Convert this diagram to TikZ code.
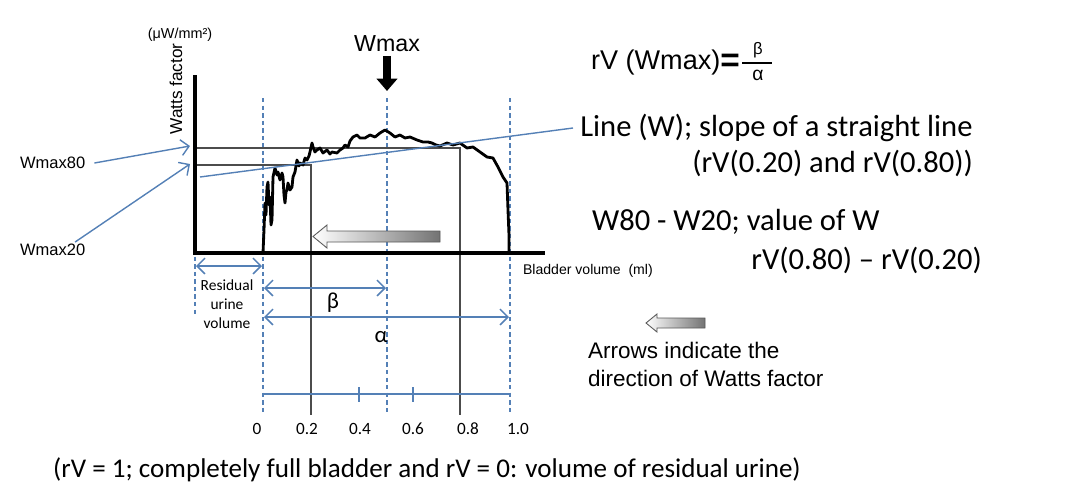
\documentclass[tikz,border=0pt]{standalone}
\usepackage{fontspec}
\setmainfont{Carlito}
\newfontfamily\arialf{Liberation Sans}
\usetikzlibrary{arrows.meta}
\definecolor{wblue}{RGB}{84,128,182}

\begin{document}
\begin{tikzpicture}[x=0.02cm, y=-0.02cm,
    axis/.style={line width=2pt},
    guide/.style={wblue, line width=0.7pt, dash pattern=on 2.5pt off 1.8pt},
    refline/.style={gray!60!black, line width=0.6pt},
    dimarrow/.style={wblue, line width=0.9pt, {Straight Barb[length=4.5pt,width=9pt]}-{Straight Barb[length=4.5pt,width=9pt]}},
    callout/.style={wblue, line width=0.8pt, -{Straight Barb[length=4.5pt,width=9pt]}},
    gradarrow/.style={draw=gray!70!black, line width=0.5pt, left color=white, right color=black!55},
    curve/.style={line width=1.6pt, line join=round},
    arialtxt/.style={font=\arialf\fontsize{#1}{#1}\selectfont, inner sep=1pt},
    calitxt/.style={font=\fontsize{#1}{#1}\selectfont, inner sep=1pt}]
    \useasboundingbox (0,0) rectangle (1080,501);

    % Dashed guides and reference lines
    \draw[guide] (195,98) -- (195,317);
    \foreach \x in {263,387,510} \draw[guide] (\x,98) -- (\x,415);
    \draw[refline] (195,148) -| (460,415);
    \draw[refline] (195,165) -| (311,415);

    % Watts factor curve
    \draw[curve] plot coordinates {(263,253) (264,230) (265,203) (266,215) (267,187) (268,182)
        (269,205) (270,197) (271,225) (272,220) (273,177) (275,168) (277,175) (278,172) (280,180)
        (282,173) (283,177) (284,195) (285,203) (286,192) (287,190) (288,183) (290,190) (292,187)
        (293,177) (295,172) (297,160) (299,166) (300,163) (303,165) (305,158) (307,160) (309,156)
        (310,152) (312,143) (313,147) (315,152) (317,150) (320,148) (323,153) (327,150) (330,154)
        (332,152) (337,153) (340,150) (343,148) (345,145) (348,147) (350,141) (353,137) (357,135)
        (360,138) (365,138) (370,135) (375,137) (380,133) (385,130) (390,133) (395,137) (400,135)
        (405,138) (410,137) (417,140) (423,142) (428,142) (432,143) (436,145) (440,146) (447,143)
        (453,145) (460,143) (467,148) (473,147) (480,152) (487,157) (493,158) (498,167) (503,177)
        (507,183) (508,210) (509,235) (509,253)};

    % Axes
    \draw[axis] (195,75) -- (195,253) -- (545,253);

    % Direction arrow in the plot
    \shade[gradarrow] (313,236.5) -- (327,225) -- (327,231) -- (440,231) -- (440,242)
        -- (327,242) -- (327,248) -- cycle;

    % Axis labels
    \node[arialtxt=8.2] (unit) at (180,35) {(μW/mm²)};
    \node[arialtxt=9.8, rotate=90] (watts) at (176,89) {Watts factor};
    \node[arialtxt=8, anchor=west] (bladder) at (521,271) {Bladder volume\ \ (ml)};

    % Wmax marker
    \node[arialtxt=13.2] (wmax) at (387,44) {Wmax};
    \coordinate (wpeak) at (387,91);
    \draw[line width=5pt, -{Triangle[length=7pt,width=11.5pt]}] ([yshift=-1pt]wmax.south) -- (wpeak);

    % Wmax80 and Wmax20
    \coordinate (w80) at (190,146);
    \coordinate (w20) at (190,164);
    \node[arialtxt=9.4, anchor=west] (wmax80) at (18,163) {Wmax80};
    \node[arialtxt=9.4, anchor=west] (wmax20) at (18,250) {Wmax20};
    \draw[callout] ([xshift=4pt]wmax80.east) -- (w80);
    \draw[callout] ([xshift=-7pt]wmax20.north east) -- (w20);

    % Line (W)
    \coordinate (lw) at (200,177);
    \node[calitxt=17.4, anchor=west, inner sep=4pt] (linew) at (573,128) {Line (W); slope of a straight line};
    \draw[wblue, line width=0.8pt] (lw) -- (linew.west);

    % Volume spans
    \draw[dimarrow] (196,266) -- (262,266);
    \node[font=\fontsize{8.8}{10.8}\selectfont, align=center] (resid) at (227,304) {Residual\\urine\\volume};
    \draw[dimarrow] (264,288) -- (386,288);
    \node[calitxt=13] (beta) at (333,303) {β};
    \draw[dimarrow] (264,317) -- (509,317);
    \node[calitxt=13] (alpha) at (381,337) {α};

    % rV scale
    \draw[wblue, line width=0.8pt] (263,394) -- (510,394);
    \foreach \x in {359,413} \draw[wblue, line width=0.8pt] (\x,387) -- (\x,402);
    \foreach \x/\v [count=\i] in {257/0, 307/0.2, 360/0.4, 413/0.6, 468/0.8, 518/1.0}
        \node[calitxt=9.8] (tick\i) at (\x,429) {\v};

    % Right-hand notes
    \node[arialtxt=15.4, anchor=west] (rvw) at (589,62) {rV (Wmax)\raisebox{-1.5pt}{\fontsize{19}{19}\selectfont\textbf{=}}};
    \node[arialtxt=9.5, inner sep=0pt] (fbeta) at (758,50) {β};
    \node[arialtxt=11, inner sep=0pt] (falpha) at (758,75) {α};
    \draw[line width=0.8pt] (742,63) -- (772,63);
    \node[calitxt=17.4, anchor=east] (slope) at (975,163) {(rV(0.20) and rV(0.80))};
    \node[calitxt=17.4, anchor=west] (wdiff) at (590,222) {W80 - W20; value of W};
    \node[calitxt=17.4, anchor=east] (rvdiff) at (984,260) {rV(0.80) – rV(0.20)};

    % Legend
    \shade[gradarrow] (646,323) -- (657,314) -- (657,318) -- (705,318) -- (705,328)
        -- (657,328) -- (657,332) -- cycle;
    \node[font=\arialf\fontsize{12.8}{15.9}\selectfont, align=left, anchor=west, inner sep=1pt] (legend) at (586,364) {Arrows indicate the\\direction of Watts factor};

    % Footnote
    \node[calitxt=15.4] (note) at (427,470) {(rV = 1; completely full bladder and rV = 0: volume of residual urine)};
\end{tikzpicture}
\end{document}
